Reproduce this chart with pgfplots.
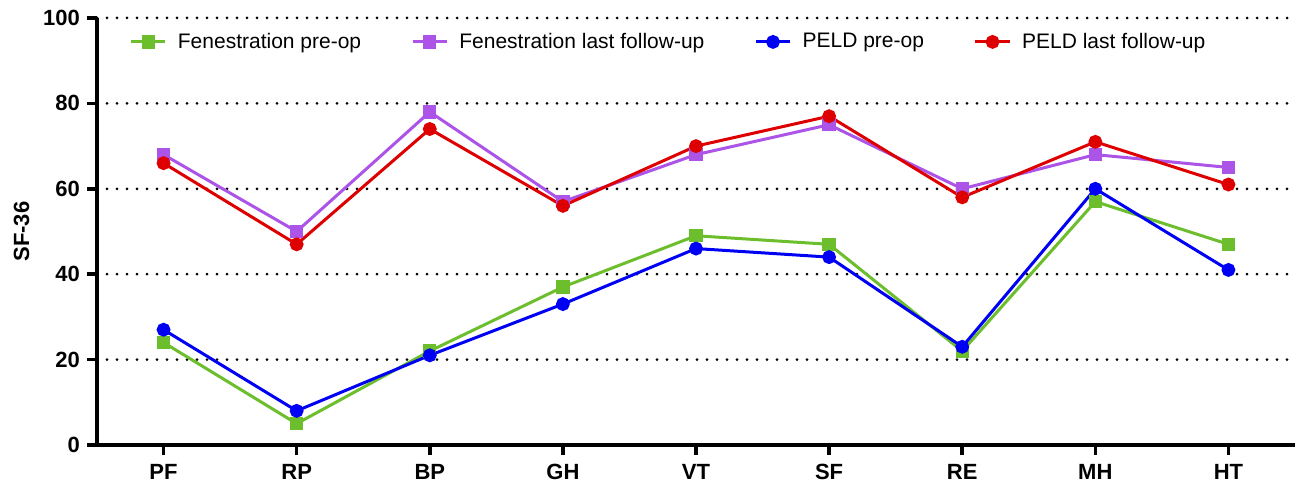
\documentclass[border=0pt]{standalone}
\usepackage{fontspec}
\setmainfont{Liberation Sans}
\usepackage{pgfplots}
\pgfplotsset{compat=1.18}
\definecolor{fpre}{RGB}{108,190,45}
\definecolor{flast}{RGB}{172,84,232}
\definecolor{ppre}{RGB}{0,0,245}
\definecolor{plast}{RGB}{222,0,0}
\begin{document}
\begin{tikzpicture}
\begin{axis}[
  name=ax,
  width=599pt, height=213.5pt,
  scale only axis,
  xmin=-0.5, xmax=8.5,
  ymin=0, ymax=100,
  xtick={0,...,8},
  xticklabels={PF,RP,BP,GH,VT,SF,RE,MH,HT},
  ytick={0,20,...,100},
  axis x line*=bottom, axis y line*=left,
  axis line style={-, line width=1.8pt},
  tick style={black, line width=1.8pt},
  major tick length=5pt,
  tick align=outside,
  ymajorgrids,
  major grid style={black, line width=1.5pt, line cap=round, dash pattern=on 0pt off 5pt},
  tick label style={font=\bfseries\fontsize{11}{13}\selectfont},
  xticklabel style={yshift=-1pt},
  /pgf/number format/assume math mode=true,
  ylabel={SF-36},
  ylabel style={font=\bfseries\fontsize{11}{13}\selectfont},
  every axis plot/.append style={line width=1.5pt},
  legend style={draw=none, fill=none, at={(0.022,0.985)}, anchor=north west,
    font=\fontsize{10.5}{12}\selectfont, legend columns=4,
    /tikz/every odd column/.append style={column sep=3.5pt},
    /tikz/every even column/.append style={column sep=23pt}},
  legend image code/.code={
    \draw[#1, mark repeat=2, mark phase=2] plot coordinates {(0cm,0cm) (0.3cm,0cm) (0.6cm,0cm)};},
]
\addplot[fpre, mark=square*, mark size=2.6pt] coordinates {
 (0,24) (1,5) (2,22) (3,37) (4,49) (5,47) (6,22) (7,57) (8,47)};
\addlegendentry{Fenestration pre-op}
\addplot[flast, mark=square*, mark size=2.6pt] coordinates {
 (0,68) (1,50) (2,78) (3,57) (4,68) (5,75) (6,60) (7,68) (8,65)};
\addlegendentry{Fenestration last follow-up}
\addplot[ppre, mark=*, mark size=2.7pt] coordinates {
 (0,27) (1,8) (2,21) (3,33) (4,46) (5,44) (6,23) (7,60) (8,41)};
\addlegendentry{PELD pre-op}
\addplot[plast, mark=*, mark size=2.7pt] coordinates {
 (0,66) (1,47) (2,74) (3,56) (4,70) (5,77) (6,58) (7,71) (8,61)};
\addlegendentry{PELD last follow-up}
\end{axis}
\pgfresetboundingbox
\path ([xshift=-48.5pt,yshift=-20pt]ax.south west) rectangle ([xshift=2pt,yshift=9pt]ax.north east);
\end{tikzpicture}
\end{document}
